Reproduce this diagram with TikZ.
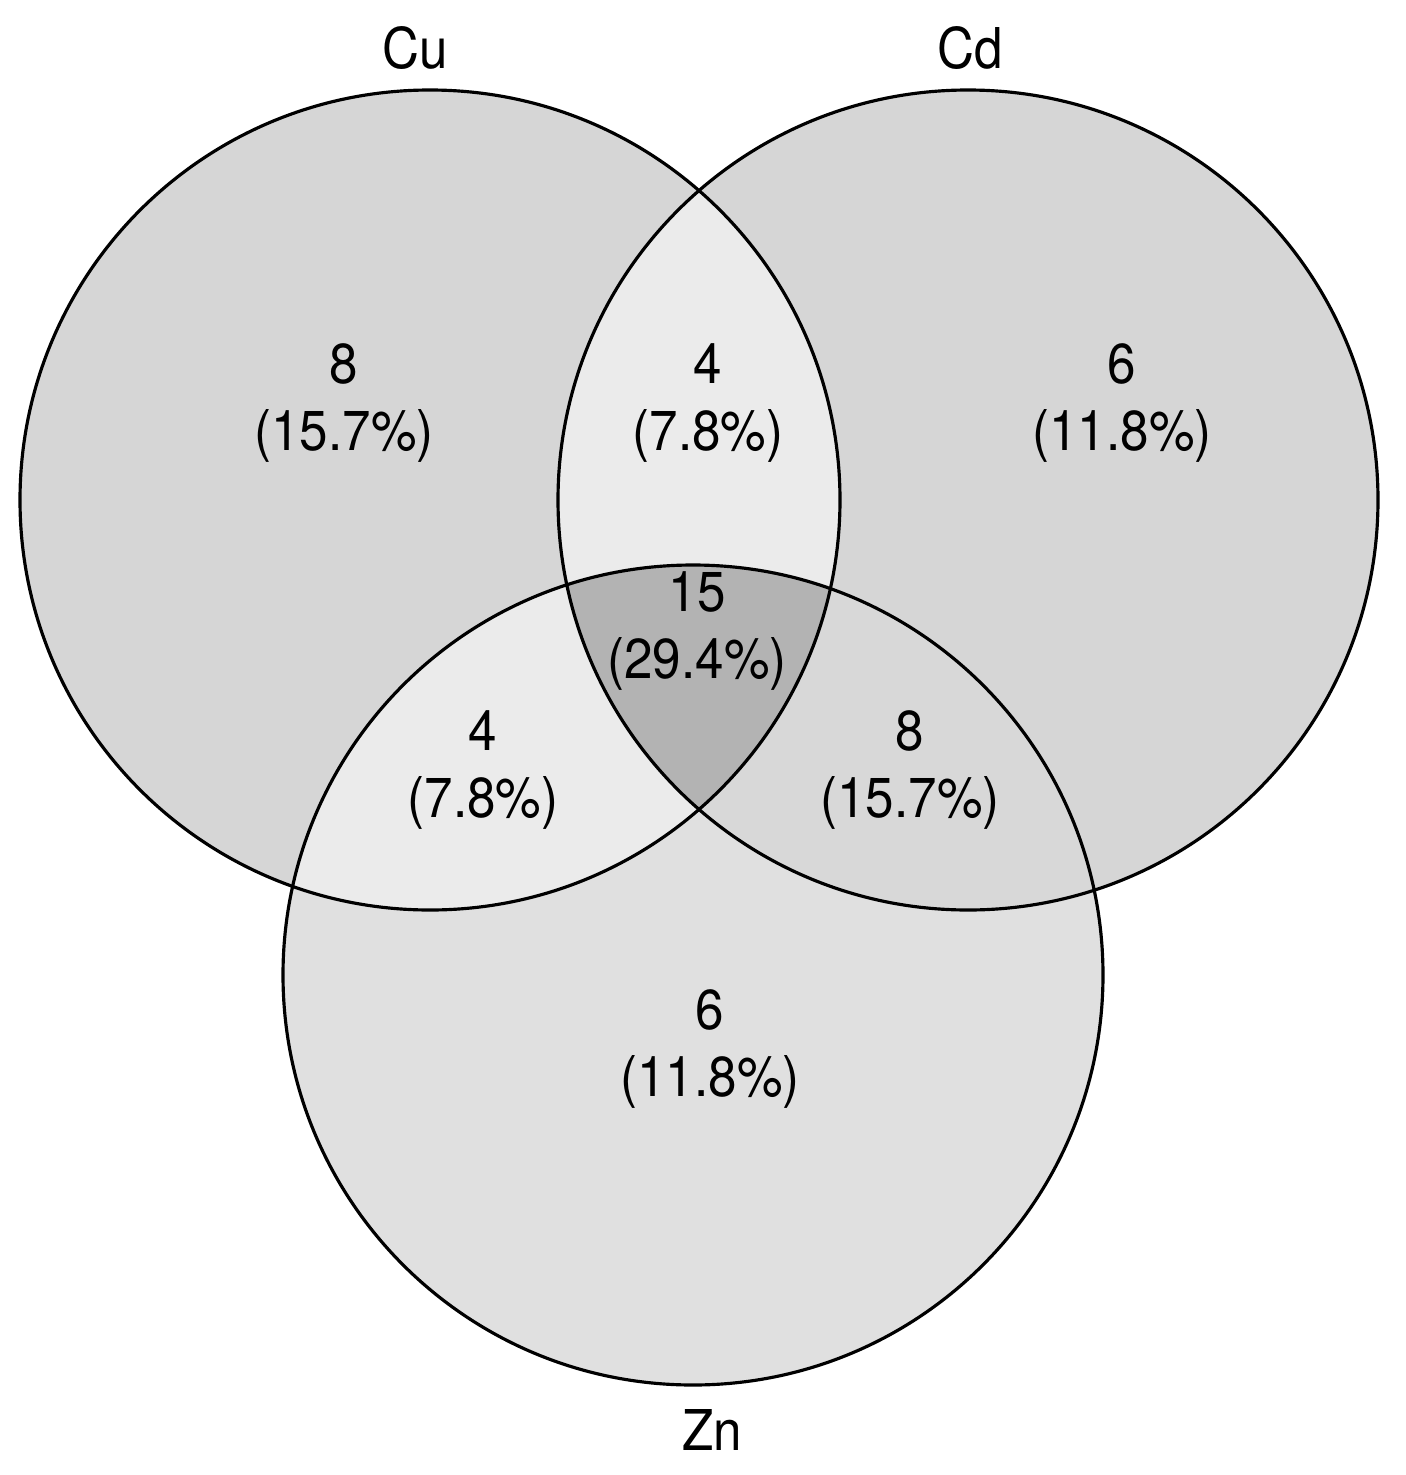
\documentclass[tikz,border=0pt]{standalone}
\usepackage{fontspec}
\setmainfont[FakeStretch=0.91]{TeX Gyre Heros}

\definecolor{onlyfill}{HTML}{D6D6D6}
\definecolor{znfill}{HTML}{E0E0E0}
\definecolor{pairfill}{HTML}{EBEBEB}
\definecolor{cdznfill}{HTML}{D8D8D8}
\definecolor{allfill}{HTML}{B3B3B3}

\begin{document}
\begin{tikzpicture}[line width=0.9pt]
\newcommand{\rad}{4.10}
\newcommand{\cuset}{(4.30,-5.00) circle (\rad)}
\newcommand{\cdset}{(9.68,-5.00) circle (\rad)}
\newcommand{\znset}{(6.93,-9.75) circle (\rad)}

\tikzset{ countstyle/.style={align=center, font={\fontsize{16pt}{19pt}\selectfont}},
  setname/.style={font={\fontsize{16pt}{19pt}\selectfont}}
}

\useasboundingbox (0,0) rectangle (14.05,-14.75);

% single sets
\fill[onlyfill] \cuset;
\fill[onlyfill] \cdset;
\fill[znfill] \znset;

% pairs
\begin{scope}
  \clip \cuset;
  \fill[pairfill] \cdset;
  \fill[pairfill] \znset;
\end{scope}
\begin{scope}
  \clip \cdset;
  \fill[cdznfill] \znset;
\end{scope}

% all three
\begin{scope}
  \clip \cuset;
  \clip \cdset;
  \fill[allfill] \znset;
\end{scope}

\draw \cuset;
\draw \cdset;
\draw \znset;

\node[setname] (cu) at (4.15,-0.48) {Cu};
\node[setname] (cd) at (9.70,-0.48) {Cd};
\node[setname] (zn) at (7.12,-14.30) {Zn};

\node[countstyle] (cuonly) at (3.44,-4.03) {8\\(15.7\%)};
\node[countstyle] (cucd) at (7.08,-4.03) {4\\(7.8\%)};
\node[countstyle] (cdonly) at (11.22,-4.03) {6\\(11.8\%)};
\node[countstyle] (cucdzn) at (6.97,-6.31) {15\\(29.4\%)};
\node[countstyle] (cuzn) at (4.83,-7.70) {4\\(7.8\%)};
\node[countstyle] (cdzn) at (9.10,-7.70) {8\\(15.7\%)};
\node[countstyle] (znonly) at (7.10,-10.49) {6\\(11.8\%)};

\end{tikzpicture}
\end{document}
